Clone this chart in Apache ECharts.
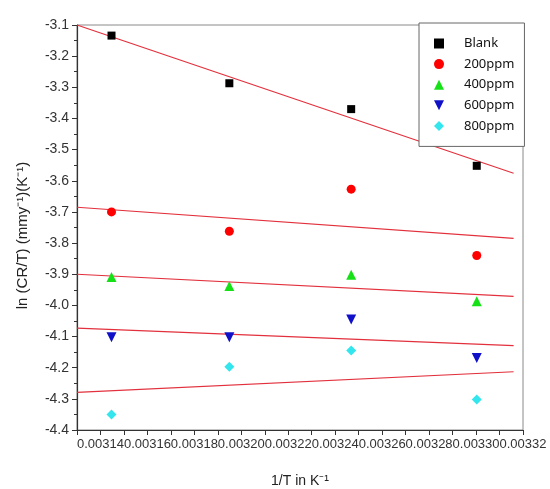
<!DOCTYPE html>
<html>
<head>
<meta charset="utf-8">
<script src="https://cdn.jsdelivr.net/npm/echarts@6/dist/echarts.min.js"></script>
<style>
html,body{margin:0;padding:0;background:#fff;}
#chart{width:550px;height:489px;}
</style>
</head>
<body>
<div id="chart"></div>
<script>
// 1/T values (K^-1)
const invT = [0.0031447, 0.0031949, 0.0032468, 0.0033003];
const seriesNames = ['Blank', '200ppm', '400ppm', '600ppm', '800ppm'];
const blank = [-3.134, -3.287, -3.370, -3.552];
const ppm200 = [-3.700, -3.762, -3.627, -3.840];
const ppm400 = [-3.909, -3.938, -3.902, -3.987];
const ppm600 = [-4.102, -4.102, -4.045, -4.169];
const ppm800 = [-4.350, -4.197, -4.145, -4.302];
// linear fit lines: values at the two ends
const fitX = [0.00313, 0.003316];
const fitBlank = [-3.100, -3.576];
const fit200 = [-3.685, -3.785];
const fit400 = [-3.900, -3.971];
const fit600 = [-4.073, -4.129];
const fit800 = [-4.279, -4.213];
const yTicks = ['-3.1','-3.2','-3.3','-3.4','-3.5','-3.6','-3.7','-3.8','-3.9','-4.0','-4.1','-4.2','-4.3','-4.4'];

const values = [blank, ppm200, ppm400, ppm600, ppm800];
const fits = [fitBlank, fit200, fit400, fit600, fit800];
const colors = ['#000000', '#ff0000', '#16e016', '#1010c8', '#33e6ee'];
const symbols = ['rect', 'circle', 'triangle', 'triangle', 'diamond'];
const symbolRot = [0, 0, 0, 180, 0];
const symbolSizes = [8, 9, 10, 10, 10];
const legendIcons = ['rect', 'circle', 'triangle', 'path://M0,0 L10,0 L5,10 Z', 'diamond'];

const series = [];
values.forEach((v, i) => {
  series.push({
    name: seriesNames[i],
    type: 'scatter',
    symbol: symbols[i],
    symbolRotate: symbolRot[i],
    symbolSize: symbolSizes[i],
    itemStyle: {color: colors[i], opacity: 1},
    data: invT.map((x, k) => [x, v[k]]),
    z: 3
  });
});
fits.forEach((f, i) => {
  series.push({
    name: 'fit ' + seriesNames[i],
    type: 'line',
    showSymbol: false,
    silent: true,
    lineStyle: {color: '#e2303c', width: 1.2},
    data: fitX.map((x, k) => [x, f[k]]),
    z: 2
  });
});

const chart = echarts.init(document.getElementById('chart'));
chart.setOption({
  animation: false,
  backgroundColor: '#ffffff',
  grid: {left: 77, right: 27, top: 25, bottom: 59, show: true, borderColor: '#8a8a8a', borderWidth: 1, outerBoundsMode: 'none'},
  legend: {
    data: seriesNames.map((n, i) => ({name: n, icon: legendIcons[i], itemStyle: {color: colors[i], opacity: 1}})),
    orient: 'vertical',
    left: 419, top: 23,
    padding: [14, 10, 14, 15],
    itemWidth: 10, itemHeight: 10, itemGap: 7.6,
    selectedMode: false,
    backgroundColor: '#ffffff',
    borderColor: '#666666', borderWidth: 1,
    textStyle: {fontFamily: 'Noto Sans', fontSize: 13, color: '#111', padding: [0, 0, 0, 15]}
  },
  xAxis: {
    type: 'value',
    min: 0.00313, max: 0.00332, interval: 0.00001,
    name: '1/T in K\u207B\u00B9',
    nameLocation: 'middle', nameGap: 44,
    nameTextStyle: {fontFamily: 'Liberation Sans', fontSize: 14, color: '#222'},
    axisLine: {lineStyle: {color: '#333', width: 1.2}},
    axisTick: {show: true, inside: false, length: 5, lineStyle: {color: '#333'}},
    splitLine: {show: false},
    axisLabel: {
      fontFamily: 'Liberation Sans', fontSize: 13, color: '#333', margin: 8,
      formatter: function (v) {
        const n = Math.round(v * 1e5);
        if (n % 2 !== 0) return '';
        return (n / 1e5).toFixed(5);
      }
    }
  },
  yAxis: {
    type: 'value',
    min: -4.4, max: -3.1, interval: 0.1,
    name: 'ln (CR/T) (mmy\u207B\u00B9)(K\u207B\u00B9)',
    nameLocation: 'middle', nameGap: 47, nameRotate: 90,
    nameTextStyle: {fontFamily: 'Liberation Sans', fontSize: 15, color: '#222', padding: [0, 16, 0, 0]},
    axisLine: {show: true, lineStyle: {color: '#333', width: 1.2}},
    axisTick: {show: true, inside: false, length: 5, lineStyle: {color: '#333'}},
    minorTick: {show: true, splitNumber: 2, length: 3, lineStyle: {color: '#333'}},
    splitLine: {show: false},
    axisLabel: {
      fontFamily: 'Liberation Sans', fontSize: 14, color: '#333', margin: 8,
      formatter: function (v) {
        const idx = Math.round((-3.1 - v) / 0.1);
        return yTicks[idx] !== undefined ? yTicks[idx] : v.toFixed(1);
      }
    }
  },
  series: series
});
</script>
</body>
</html>
